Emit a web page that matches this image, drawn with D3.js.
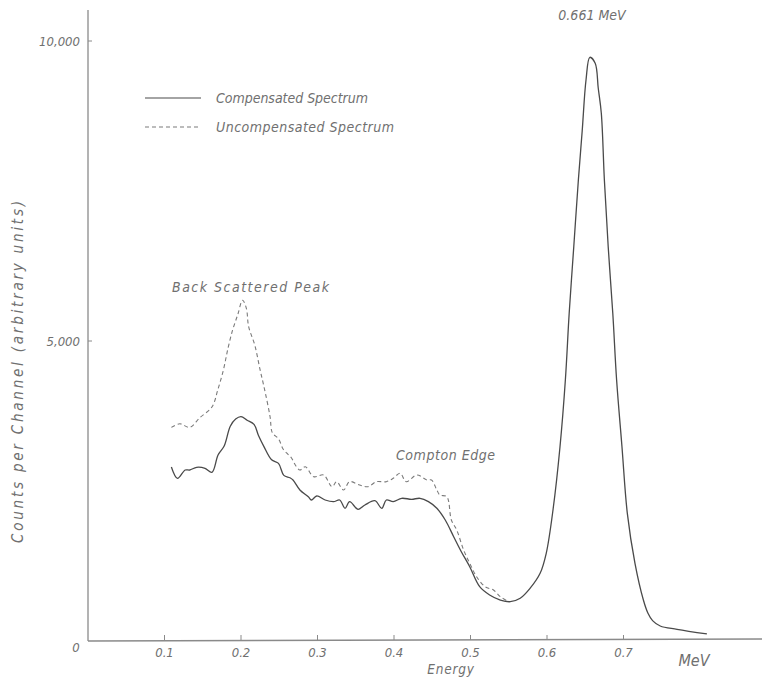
<!DOCTYPE html>
<html>
<head>
<meta charset="utf-8">
<script src="https://cdn.jsdelivr.net/npm/d3@7"></script>
<style>
  body { margin: 0; background: #fff; }
  text { font-family: "Liberation Sans Narrow", "DejaVu Sans Condensed", sans-serif; font-style: italic; fill: #707070; }
</style>
</head>
<body>
<svg id="chart" width="769" height="678"></svg>
<script>
// energy in MeV, counts per channel
const compEnergy = [0.109, 0.117, 0.127, 0.133, 0.142, 0.153, 0.162, 0.170, 0.178, 0.186, 0.193, 0.200, 0.208, 0.217, 0.223, 0.230, 0.240, 0.249, 0.256, 0.264, 0.268, 0.277, 0.288, 0.292, 0.299, 0.310, 0.321, 0.329, 0.336, 0.342, 0.353, 0.362, 0.375, 0.384, 0.390, 0.399, 0.410, 0.423, 0.434, 0.445, 0.456, 0.467, 0.478, 0.488, 0.499, 0.512, 0.525, 0.539, 0.552, 0.565, 0.578, 0.591, 0.599, 0.608, 0.617, 0.624, 0.629, 0.635, 0.641, 0.646, 0.651, 0.656, 0.663, 0.667, 0.671, 0.675, 0.680, 0.686, 0.691, 0.698, 0.705, 0.715, 0.726, 0.732, 0.738, 0.748, 0.770, 0.809];
const compCounts = [2900, 2710, 2850, 2850, 2895, 2878, 2812, 3100, 3250, 3580, 3700, 3740, 3680, 3610, 3420, 3240, 3020, 2960, 2760, 2720, 2683, 2517, 2405, 2350, 2417, 2350, 2322, 2350, 2212, 2322, 2195, 2267, 2338, 2212, 2350, 2322, 2378, 2362, 2378, 2322, 2212, 2017, 1738, 1488, 1238, 905, 767, 683, 655, 712, 880, 1128, 1462, 2200, 3238, 4350, 5462, 6572, 7683, 8500, 9350, 9728, 9628, 9212, 8795, 7683, 6572, 5462, 4350, 3238, 2128, 1295, 683, 462, 340, 250, 195, 117];

const uncompEnergy = [0.109, 0.120, 0.133, 0.146, 0.162, 0.170, 0.177, 0.183, 0.189, 0.196, 0.202, 0.207, 0.210, 0.218, 0.225, 0.231, 0.238, 0.241, 0.249, 0.255, 0.260, 0.266, 0.271, 0.277, 0.284, 0.295, 0.308, 0.319, 0.325, 0.334, 0.342, 0.355, 0.366, 0.377, 0.390, 0.399, 0.408, 0.416, 0.430, 0.443, 0.449, 0.456, 0.460, 0.469, 0.475, 0.482, 0.491, 0.499, 0.508, 0.519, 0.530, 0.539, 0.549];
const uncompCounts = [3560, 3620, 3560, 3720, 3900, 4200, 4517, 4880, 5180, 5450, 5680, 5545, 5238, 4933, 4517, 4183, 3738, 3470, 3370, 3200, 3130, 3050, 2933, 2850, 2905, 2738, 2767, 2572, 2655, 2517, 2655, 2600, 2572, 2655, 2655, 2712, 2795, 2655, 2767, 2683, 2683, 2517, 2433, 2405, 2017, 1850, 1517, 1295, 1072, 905, 850, 738, 660];

const xTicks = [0.1, 0.2, 0.3, 0.4, 0.5, 0.6, 0.7];
const xTickLabels = ['0.1', '0.2', '0.3', '0.4', '0.5', '0.6', '0.7'];
const yTicks = [5000, 10000];
const yTickLabels = ['5,000', '10,000'];

const svg = d3.select('#chart');
const axisColor = '#8a8a8a';

const x = d3.scaleLinear().domain([0, 0.1]).range([88, 164.5]);
const y = d3.scaleLinear().domain([0, 5000]).range([641, 341]);

// axes, drawn by hand as in the original sheet
svg.append('line')
  .attr('x1', 88).attr('x2', 88)
  .attr('y1', 10).attr('y2', 641)
  .attr('stroke', axisColor).attr('stroke-width', 1.3);

svg.append('line')
  .attr('x1', 88).attr('x2', 762)
  .attr('y1', 641).attr('y2', 639)
  .attr('stroke', axisColor).attr('stroke-width', 1.3);

svg.selectAll('.xtick')
  .data(xTicks).enter()
  .append('line')
  .attr('class', 'xtick')
  .attr('x1', d => x(d)).attr('x2', d => x(d))
  .attr('y1', 640).attr('y2', 635)
  .attr('stroke', axisColor);

svg.selectAll('.xlabel')
  .data(xTicks).enter()
  .append('text')
  .attr('class', 'xlabel')
  .attr('x', d => x(d))
  .attr('y', 657)
  .attr('text-anchor', 'middle')
  .style('font-size', '13px')
  .text((d, i) => xTickLabels[i]);

svg.selectAll('.ytick')
  .data(yTicks).enter()
  .append('line')
  .attr('class', 'ytick')
  .attr('x1', 88).attr('x2', 92)
  .attr('y1', d => y(d)).attr('y2', d => y(d))
  .attr('stroke', axisColor);

svg.selectAll('.ylabel')
  .data(yTicks).enter()
  .append('text')
  .attr('class', 'ylabel')
  .attr('x', 80)
  .attr('y', d => y(d) + 5)
  .attr('text-anchor', 'end')
  .style('font-size', '13px')
  .text((d, i) => yTickLabels[i]);

svg.append('text')
  .attr('x', 76).attr('y', 652)
  .attr('text-anchor', 'middle')
  .style('font-size', '13px')
  .text('0');

svg.append('text')
  .attr('x', 694).attr('y', 666)
  .attr('text-anchor', 'middle')
  .style('font-size', '16px')
  .text('MeV');

svg.append('text')
  .attr('x', 451).attr('y', 674)
  .attr('text-anchor', 'middle')
  .style('font-size', '13.5px')
  .attr('letter-spacing', 0.8)
  .text('Energy');

svg.append('text')
  .attr('transform', 'translate(23,372) rotate(-90)')
  .attr('text-anchor', 'middle')
  .style('font-size', '15px')
  .attr('textLength', 342)
  .attr('lengthAdjust', 'spacing')
  .text('Counts per Channel (arbitrary units)');

// curves
const line = (xs, ys) => d3.line()
  .x((d, i) => x(xs[i]))
  .y(d => y(d))
  .curve(d3.curveCatmullRom.alpha(0.5))(ys);

svg.append('path')
  .attr('d', line(uncompEnergy, uncompCounts))
  .attr('fill', 'none')
  .attr('stroke', '#7a7a7a')
  .attr('stroke-width', 1.1)
  .attr('stroke-dasharray', '4,3');

svg.append('path')
  .attr('d', line(compEnergy, compCounts))
  .attr('fill', 'none')
  .attr('stroke', '#4a4a4a')
  .attr('stroke-width', 1.3);

// legend
const legend = [
  { label: 'Compensated Spectrum', dash: null, color: '#4a4a4a', y: 98, len: 152 },
  { label: 'Uncompensated Spectrum', dash: '4,3', color: '#7a7a7a', y: 127, len: 178 }
];
legend.forEach(l => {
  svg.append('line')
    .attr('x1', 145).attr('x2', 201)
    .attr('y1', l.y).attr('y2', l.y)
    .attr('stroke', l.color)
    .attr('stroke-width', 1.1)
    .attr('stroke-dasharray', l.dash);
  svg.append('text')
    .attr('x', 216).attr('y', l.y + 5)
    .style('font-size', '14px')
    .attr('textLength', l.len)
    .attr('lengthAdjust', 'spacing')
    .text(l.label);
});

// annotations
svg.append('text')
  .attr('x', 172).attr('y', 292)
  .style('font-size', '14px')
  .attr('textLength', 157)
  .attr('lengthAdjust', 'spacing')
  .text('Back Scattered Peak');

svg.append('text')
  .attr('x', 396).attr('y', 460)
  .style('font-size', '14px')
  .attr('textLength', 99)
  .attr('lengthAdjust', 'spacing')
  .text('Compton Edge');

svg.append('text')
  .attr('x', 592).attr('y', 20)
  .attr('text-anchor', 'middle')
  .style('font-size', '14px')
  .text('0.661 MeV');
</script>
</body>
</html>
